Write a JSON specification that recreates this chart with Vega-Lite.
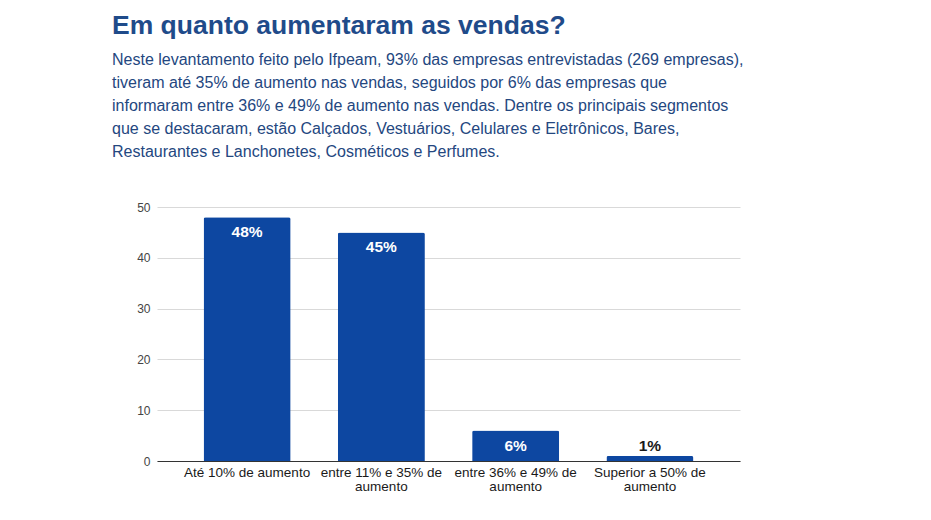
{
  "$schema": "https://vega.github.io/schema/vega-lite/v6.json",
  "width": 583,
  "height": 254,
  "padding": {"left": 112, "top": 12, "right": 10, "bottom": 5},
  "background": "white",
  "title": {
    "text": "Em quanto aumentaram as vendas?",
    "subtitle": [
      "Neste levantamento feito pelo Ifpeam, 93% das empresas entrevistadas (269 empresas),",
      "tiveram  até 35%  de aumento nas vendas, seguidos por 6% das empresas que",
      "informaram entre 36% e 49% de aumento nas vendas. Dentre os principais segmentos",
      "que se destacaram, estão Calçados, Vestuários, Celulares e Eletrônicos, Bares,",
      "Restaurantes e Lanchonetes, Cosméticos e Perfumes."
    ],
    "anchor": "start",
    "frame": "bounds",
    "font": "Liberation Sans",
    "fontSize": 26.5,
    "fontWeight": "bold",
    "color": "#1f4b8a",
    "subtitleFont": "Liberation Sans",
    "subtitleFontSize": 16,
    "subtitleColor": "#24477f",
    "subtitleLineHeight": 23,
    "subtitlePadding": 13,
    "offset": 41
  },
  "data": {
    "values": [
      {"categoria": "Até 10% de aumento", "valor": 48, "rotulo": "48%"},
      {"categoria": "entre 11% e 35% de aumento", "valor": 45, "rotulo": "45%"},
      {"categoria": "entre 36% e 49% de aumento", "valor": 6, "rotulo": "6%"},
      {"categoria": "Superior a 50% de aumento", "valor": 1, "rotulo": "1%"}
    ]
  },
  "encoding": {
    "x": {
      "field": "categoria",
      "type": "nominal",
      "sort": null,
      "scale": {"paddingInner": 0.352, "paddingOuter": 0.347},
      "axis": {
        "title": null,
        "labelAngle": 0,
        "labelFont": "Liberation Sans",
        "labelFontSize": 13.5,
        "labelColor": "#1a1a1a",
        "labelPadding": 4,
        "labelLineHeight": 14,
        "ticks": false,
        "domainColor": "#333333",
        "labelExpr": "datum.label == 'Até 10% de aumento' ? datum.label : [replace(datum.label, ' aumento', ''), 'aumento']"
      }
    },
    "y": {
      "field": "valor",
      "type": "quantitative",
      "scale": {"domain": [0, 50]},
      "axis": {
        "title": null,
        "values": [0, 10, 20, 30, 40, 50],
        "domain": false,
        "ticks": false,
        "labelPadding": 7,
        "minExtent": 45,
        "labelFont": "Liberation Sans",
        "labelFontSize": 12,
        "labelColor": "#444444",
        "gridColor": "#d9d9d9"
      }
    }
  },
  "layer": [
    {
      "mark": {"type": "bar", "color": "#0d47a1", "cornerRadiusTopLeft": 2, "cornerRadiusTopRight": 2}
    },
    {
      "transform": [{"filter": "datum.valor >= 3"}],
      "mark": {"type": "text", "baseline": "top", "dy": 8, "color": "white", "font": "Liberation Sans", "fontSize": 15.5, "fontWeight": "bold"},
      "encoding": {"text": {"field": "rotulo"}}
    },
    {
      "transform": [{"filter": "datum.valor < 3"}],
      "mark": {"type": "text", "baseline": "bottom", "dy": -2, "color": "#1a1a1a", "font": "Liberation Sans", "fontSize": 15.5, "fontWeight": "bold"},
      "encoding": {"text": {"field": "rotulo"}}
    }
  ],
  "config": {"view": {"stroke": null}}
}
